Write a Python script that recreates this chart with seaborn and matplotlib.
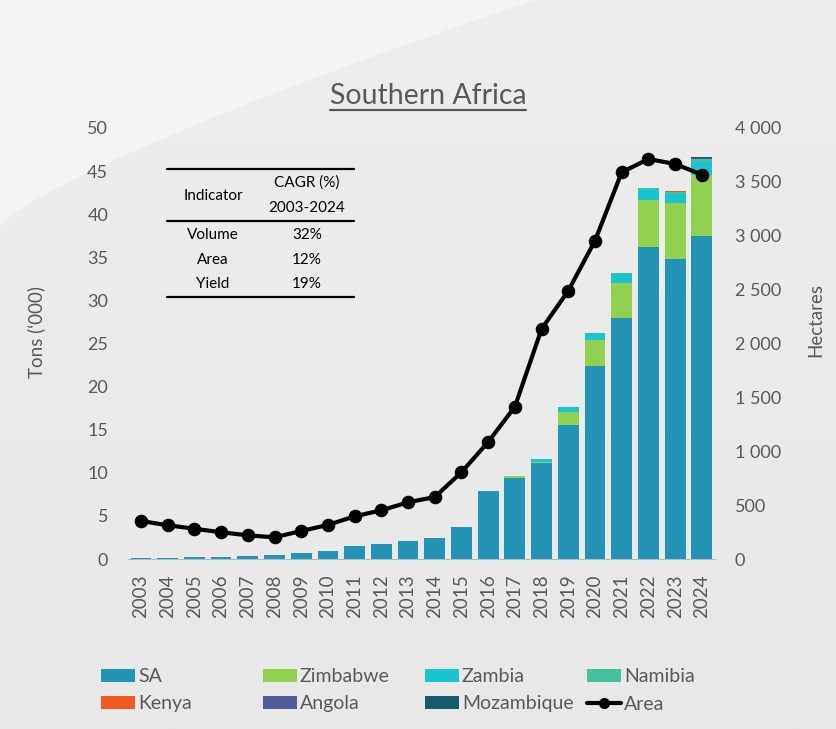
import numpy as np
import pandas as pd
import matplotlib
matplotlib.use("Agg")
import matplotlib.pyplot as plt
from matplotlib.patches import Patch, Polygon
from matplotlib.lines import Line2D
import seaborn as sns

# --- data ---
years = list(range(2003, 2025))
sa = [0.1, 0.15, 0.2, 0.25, 0.3, 0.5, 0.7, 0.95, 1.55, 1.75, 2.05, 2.45,
      3.7, 7.9, 9.4, 11.1, 15.5, 22.4, 28.0, 36.2, 34.8, 37.5]
zimbabwe = [0] * 14 + [0.2, 0.2, 1.6, 3.0, 4.0, 5.5, 6.5, 7.0]
zambia = [0] * 15 + [0.3, 0.5, 0.8, 1.1, 1.2, 1.1, 1.5]
namibia = [0] * 18 + [0.1, 0.1, 0.15, 0.35]
kenya = [0] * 19 + [0.05, 0.1, 0.1]
angola = [0] * 21 + [0.1]
mozambique = [0] * 21 + [0.03]
area = [353, 313, 281, 248, 220, 201, 260, 316, 396, 452, 526, 575,
        805, 1086, 1413, 2135, 2490, 2954, 3589, 3712, 3666, 3567]

countries = ["SA", "Zimbabwe", "Zambia", "Namibia", "Kenya", "Angola", "Mozambique"]
colors = {"SA": "#2394b5", "Zimbabwe": "#92d050", "Zambia": "#17c4cf",
          "Namibia": "#45c1a0", "Kenya": "#f05a22", "Angola": "#4f5b99",
          "Mozambique": "#155a6e"}

cagr_rows = ["Volume", "Area", "Yield"]
cagr_vals = ["32%", "12%", "19%"]

df = pd.DataFrame({"year": [str(y) for y in years], "SA": sa, "Zimbabwe": zimbabwe,
                   "Zambia": zambia, "Namibia": namibia, "Kenya": kenya,
                   "Angola": angola, "Mozambique": mozambique, "Area": area})
cum = df[countries].cumsum(axis=1)

sns.set_style("white")
plt.rcParams["font.family"] = ["Lato", "DejaVu Sans"]
grey = "#595959"

W, H = 836, 729
fig = plt.figure(figsize=(W / 100, H / 100), dpi=100)
fig.patch.set_facecolor("#eaeaea")

# background: soft gradient + light swoosh top-left
bg = fig.add_axes([0, 0, 1, 1], zorder=-10)
grad = np.linspace(0, 1, 256).reshape(-1, 1)
bg.imshow(grad, aspect="auto", cmap=matplotlib.colors.LinearSegmentedColormap.from_list(
    "bg", ["#ededed", "#e8e8e8"]), extent=[0, 1, 0, 1])
swoosh_x = np.linspace(0, 0.64, 60)
swoosh_y = 0.69 + 0.31 * (swoosh_x / 0.64) ** 0.8
bg.add_patch(Polygon(np.column_stack([np.r_[0, swoosh_x, 0], np.r_[0.69, swoosh_y, 1]]),
                     closed=True, facecolor="#f4f4f4", edgecolor="none"))
bg.set_xlim(0, 1)
bg.set_ylim(0, 1)
bg.axis("off")

ax = fig.add_axes([127.6 / W, 1 - 559 / H, 587.6 / W, 431 / H])
ax.set_facecolor("none")

# stacked bars: draw cumulative totals from the top layer down
for c in reversed(countries):
    sns.barplot(x=df["year"], y=cum[c], color=colors[c], saturation=1,
                width=0.78, ax=ax, errorbar=None, linewidth=0, edgecolor="none")

ax.set_ylim(0, 50)
ax.set_yticks(np.arange(0, 51, 5))
ax.set_xlim(-0.5, len(years) - 0.5)
ax.set_xlabel("")
ax.set_ylabel("Tons (‘000)", fontsize=13.5, color=grey)
ax.yaxis.set_label_coords(-0.1406, 0.527)
ax.tick_params(axis="y", length=0, pad=14, labelsize=13, labelcolor=grey)
ax.tick_params(axis="x", length=0, pad=11, labelsize=13.5, labelcolor=grey, labelrotation=90)
for s in ["top", "left", "right"]:
    ax.spines[s].set_visible(False)
ax.spines["bottom"].set_color("#a9bcc8")
ax.spines["bottom"].set_linewidth(0.8)

ax2 = ax.twinx()
sns.lineplot(x=np.arange(len(years)), y=df["Area"], ax=ax2, color="black",
             linewidth=3, marker="o", markersize=9, markeredgecolor="black")
ax2.set_ylim(0, 4000)
ax2.set_yticks(np.arange(0, 4001, 500))
ax2.set_yticklabels([f"{v:,}".replace(",", " ") for v in range(0, 4001, 500)])
ax2.set_ylabel("Hectares", fontsize=13.5, color=grey)
ax2.yaxis.set_label_coords(1.156, 0.555)
ax2.tick_params(axis="y", length=0, pad=14, labelsize=13, labelcolor=grey)
for s in ax2.spines.values():
    s.set_visible(False)
ax.set_xlim(-0.5, len(years) - 0.5)

# title with underline
t = fig.text(428 / W, 1 - 96 / H, "Southern Africa", fontsize=20.5, color=grey,
             ha="center", va="center")
fig.canvas.draw()
bb = t.get_window_extent().transformed(fig.transFigure.inverted())
fig.add_artist(Line2D([bb.x0, bb.x1], [bb.y0 - 0.002, bb.y0 - 0.002],
                      color=grey, linewidth=1.6, transform=fig.transFigure))

# CAGR table
def fx(px):
    return px / W

def fy(py):
    return 1 - py / H

for ly in [169, 221, 296.5]:
    fig.add_artist(Line2D([fx(167), fx(354)], [fy(ly), fy(ly)], color="black",
                          linewidth=1.6, transform=fig.transFigure))
tkw = dict(fontsize=11, color="black", ha="center", va="center")
fig.text(fx(213), fy(196), "Indicator", **tkw)
fig.text(fx(307), fy(183), "CAGR (%)", **tkw)
fig.text(fx(307), fy(208.5), "2003-2024", **tkw)
for i, (r, v) in enumerate(zip(cagr_rows, cagr_vals)):
    fig.text(fx(213), fy(235 + i * 24.5), r, **tkw)
    fig.text(fx(307), fy(235 + i * 24.5), v, **tkw)

# legend: four columns placed separately
cols = [["SA", "Kenya"], ["Zimbabwe", "Angola"], ["Zambia", "Mozambique"], ["Namibia", "Area"]]
col_x = [101, 263, 425, 587]
for names, x in zip(cols, col_x):
    handles = []
    for n in names:
        if n == "Area":
            handles.append(Line2D([], [], color="black", linewidth=3, marker="o", markersize=7))
        else:
            handles.append(Patch(facecolor=colors[n], edgecolor="none"))
    fig.legend(handles, names, loc="upper left", bbox_to_anchor=(fx(x), fy(668)),
               frameon=False, fontsize=14, handlelength=1.75, handleheight=0.67,
               handletextpad=0.15, labelspacing=0.54, borderpad=0, borderaxespad=0,
               labelcolor=grey)

fig.savefig("out.png", dpi=100, facecolor=fig.get_facecolor())
